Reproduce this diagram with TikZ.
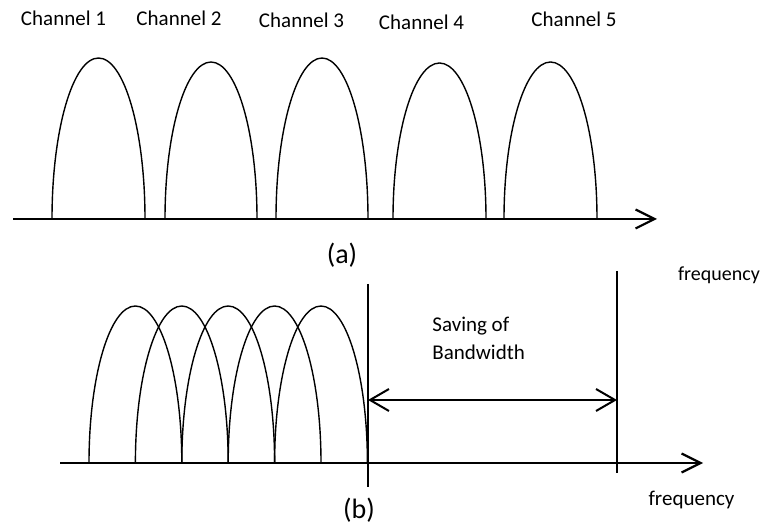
\documentclass[tikz,border=0pt]{standalone}
\usepackage{fontspec}
\setmainfont{Carlito}
\usetikzlibrary{arrows.meta}

\begin{document}
\begin{tikzpicture}[
  x=0.5pt, y=-0.5pt,
  lbl/.style={font=\fontsize{10.5}{13}\selectfont, inner sep=0pt, anchor=base},
  sub/.style={font=\fontsize{14}{17}\selectfont, inner sep=0pt, anchor=base},
  arch/.style={line width=0.7pt},
  faxis/.style={line width=1.1pt, -{Straight Barb[length=9.5pt, width=9.5pt]}},
  bound/.style={line width=0.85pt},
  saving/.style={line width=1pt,
    {Straight Barb[length=9.5pt, width=11pt]}-{Straight Barb[length=9.5pt, width=11pt]}},
]
  \useasboundingbox (0,0) rectangle (767,529);

  %% ---- (a) separate channels ----
  \coordinate (a0) at (13,219);
  \coordinate (a1) at (657,219);
  \foreach \cx/\rx/\ry in {98.5/46.5/161, 211/46/157, 322/46/161, 439.5/46.5/156, 550.5/46.5/157}{
    \draw[arch] (\cx-\rx,219) arc[start angle=180, end angle=360, x radius=\rx, y radius=\ry];
  }
  \draw[faxis] (a0) -- (a1);

  \foreach \i/\x/\y in {1/63.5/25.7, 2/179/25.5, 3/301.5/27.3, 4/421.5/29.3, 5/574/26.7}{
    \node[lbl] (ch\i) at (\x,\y) {Channel \i};
  }
  \node[sub] (capa) at (342,264) {(a)};
  \node[lbl, font=\fontsize{10}{12}\selectfont] (fa) at (719,281) {frequency};

  %% ---- (b) overlapping channels ----
  \coordinate (b0) at (60,463);
  \coordinate (b1) at (703,463);
  \foreach \k in {0,...,4}{
    \draw[arch] (89+46.4*\k,463) arc[start angle=180, end angle=360, x radius=46.4, y radius=157];
  }
  \draw[faxis] (b0) -- (b1);

  \coordinate (l1top) at (368,284);
  \coordinate (l1bot) at (368,487);
  \coordinate (l2top) at (617,271);
  \coordinate (l2bot) at (617,473);
  \draw[bound] (l1top) -- (l1bot);
  \draw[bound] (l2top) -- (l2bot);

  \coordinate (s1) at (368,400);
  \coordinate (s2) at (617,400);
  \draw[saving] (s1) -- (s2);

  \node[lbl, anchor=base west] (sv1) at (432,332) {Saving of};
  \node[lbl, anchor=base west] (sv2) at (432,360) {Bandwidth};
  \node[sub] (capb) at (359,519) {(b)};
  \node[lbl] (fb) at (691.5,506) {frequency};

\end{tikzpicture}
\end{document}
